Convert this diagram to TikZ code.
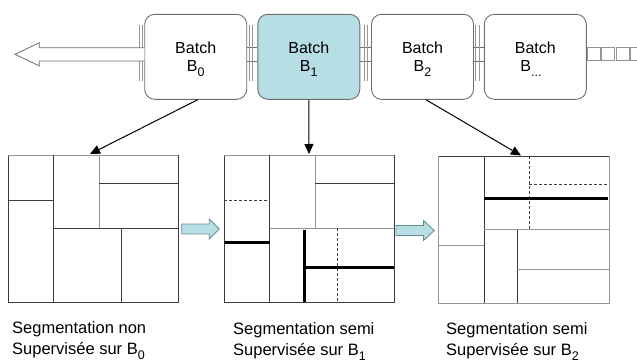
\documentclass[tikz,border=0pt]{standalone}
\usepackage{fontspec}
\setmainfont{Liberation Sans}
\usetikzlibrary{arrows.meta,calc}
\definecolor{tealfill}{RGB}{183,222,228}
\definecolor{tealline}{RGB}{105,140,148}
\definecolor{boxline}{RGB}{110,110,110}
\definecolor{gridline}{RGB}{60,60,60}
\definecolor{gridlight}{RGB}{150,150,150}
\newcommand\sbs[1]{\raisebox{-0.32em}{\fontsize{12.5}{13}\selectfont #1}}
\begin{document}
\begin{tikzpicture}[x=1pt,y=-1pt,
  batchbox/.style={draw=boxline,line width=0.9pt,rounded corners=10pt,minimum width=102pt,minimum height=85pt,inner sep=0pt},
  lbl/.style={font=\fontsize{16}{18}\selectfont,inner sep=0pt,anchor=base},
  caption/.style={font=\fontsize{16.5}{20}\selectfont,inner sep=0pt,anchor=base west},
  gridbox/.style={draw=gridline,line width=0.9pt,inner sep=0pt,minimum width=170pt,minimum height=147pt},
  gl/.style={draw=gridline,line width=0.8pt},
  glight/.style={draw=gridlight,line width=1pt},
  thickl/.style={draw=black,line width=3pt},
  dashl/.style={draw=gridline,line width=0.6pt,dash pattern=on 3pt off 2pt},
  pipe/.style={draw=boxline,line width=0.8pt},
  conn/.style={draw=black,line width=1pt,-{Triangle[length=10pt,width=9pt]}},
  blockarrow/.style={fill=tealfill,draw=tealline,line width=0.8pt}]
\useasboundingbox (0,0) rectangle (637,362);

% batch boxes
\node[batchbox] (b0) at (195.7,56.8) {};
\node[batchbox,fill=tealfill] (b1) at (308.8,56.8) {};
\node[batchbox] (b2) at (422.5,56.8) {};
\node[batchbox] (b3) at (535.3,56.8) {};

\node[lbl] (t0a) at (195.7,53.3) {Batch};
\node[lbl] (t0b) at (195.7,71.7) {B\sbs{0}};
\node[lbl] (t1a) at (308.8,53.3) {Batch};
\node[lbl] (t1b) at (308.8,71.7) {B\sbs{1}};
\node[lbl] (t2a) at (422.5,53.3) {Batch};
\node[lbl] (t2b) at (422.5,71.7) {B\sbs{2}};
\node[lbl] (t3a) at (535.3,53.3) {Batch};
\node[lbl] (t3b) at (531,71.7) {B\sbs{...}};

% pipes between boxes
\draw[pipe] ($(b0.east)+(0,-9.1)$) -- ($(b1.west)+(0,-9.1)$);
\draw[pipe] ($(b0.east)+(0,4.2)$) -- ($(b1.west)+(0,4.2)$);
\draw[pipe] ($(b1.east)+(0,-9.1)$) -- ($(b2.west)+(0,-9.1)$);
\draw[pipe] ($(b1.east)+(0,4.2)$) -- ($(b2.west)+(0,4.2)$);
\draw[pipe] ($(b2.east)+(0,-9.1)$) -- ($(b3.west)+(0,-9.1)$);
\draw[pipe] ($(b2.east)+(0,4.2)$) -- ($(b3.west)+(0,4.2)$);
% flanges
\foreach \xx in {139.5,142.5,249,252.5,364.5,367,475,479}
  \draw[draw=gridlight,line width=0.8pt] (\xx,25) -- (\xx,81);

% left outlined arrow
\draw[pipe,fill=white] ($(b0.west)+(0,-9.1)$) -- (39.3,47.7) -- (39.3,42.7) -- (15,54.3)
  -- (39.3,65.9) -- (39.3,61) -- ($(b0.west)+(0,4.2)$);

% right chain of squares
\foreach \k in {0,1,2,3}
  \draw[draw=gridlight,line width=0.9pt] (587+14.5*\k,47.3) rectangle (600+14.5*\k,60.7);

% grids
\node[gridbox] (g1) at (93,228.5) {};
\node[gridbox] (g2) at (309.3,228.6) {};
\node[gridbox,minimum width=170.3pt] (g3) at (523.9,229.8) {};

% grid 1
\draw[glight] (8,155) -- (178,155);
\draw[gl] (53.3,155) -- (53.3,302);
\draw[gl] (8,200.3) -- (53.3,200.3);
\draw[glight] (99,155) -- (99,228.3);
\draw[gl] (53.3,228.3) -- (178,228.3);
\draw[gl] (99,183) -- (178,183);
\draw[gl] (121.3,228.3) -- (121.3,302);

% grid 2
\draw[glight] (224.3,155) -- (394.3,155);
\draw[gl] (269.7,155) -- (269.7,302.3);
\draw[glight] (315.3,155) -- (315.3,228.3);
\draw[gl] (315.3,183) -- (394.3,183);
\draw[glight] (269.7,228.3) -- (394.3,228.3);
\draw[dashl] (224.3,200.3) -- (269.7,200.3);
\draw[thickl] (224.3,242.3) -- (269.7,242.3);
\draw[dashl] (337.3,228.3) -- (337.3,302.3);
\draw[thickl] (304.7,229.5) -- (304.7,302.3);
\draw[thickl] (304.7,267) -- (394.3,267);

% grid 3
\draw[glight] (438.7,156.3) -- (438.7,303.3) -- (609,303.3) -- (609,156.3);
\draw[gl] (484.3,156.3) -- (484.3,303.3);
\draw[glight] (438.7,245) -- (484.3,245);
\draw[glight] (484.3,229.7) -- (609,229.7);
\draw[dashl] (529.3,156.3) -- (529.3,229.7);
\draw[dashl] (529.3,184) -- (609,184);
\draw[thickl] (484.3,198.7) -- (608,198.7);
\draw[gl] (517.3,229.7) -- (517.3,303.3);
\draw[glight] (517.3,269) -- (609,269);

% batch -> grid arrows
\coordinate (e1) at (90,154);
\coordinate (e2) at (309,154);
\coordinate (e3) at (521,155.5);
\draw[conn] ($(b0.south)+(2,0)$) -- (e1);
\draw[conn] (b1.south) -- (e2);
\draw[conn] ($(b2.south)+(3.5,0)$) -- (e3);

% cyan block arrows between grids
\draw[blockarrow] (181.7,224) -- (209.3,224) -- (209.3,219) -- (219.3,229) -- (209.3,239) -- (209.3,234) -- (181.7,234) -- cycle;
\draw[blockarrow] (396,225.5) -- (423.6,225.5) -- (423.6,220.5) -- (434.3,230.5) -- (423.6,240.5) -- (423.6,235.5) -- (396,235.5) -- cycle;

% captions
\node[caption] (c1a) at (12,333.5) {Segmentation non};
\node[caption] (c1b) at (12,354.5) {Supervisée sur B\sbs{0}};
\node[caption] (c2a) at (233,334) {Segmentation semi};
\node[caption] (c2b) at (233,355) {Supervisée sur B\sbs{1}};
\node[caption] (c3a) at (446,334.5) {Segmentation semi};
\node[caption] (c3b) at (446,355.5) {Supervisée sur B\sbs{2}};
\end{tikzpicture}
\end{document}
